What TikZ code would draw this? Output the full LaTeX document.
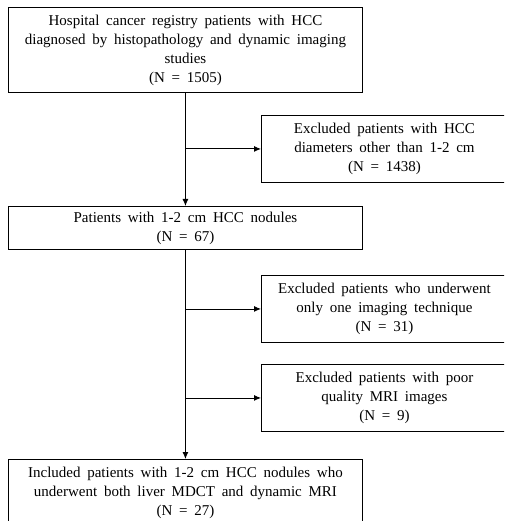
\documentclass[tikz,border=0pt]{standalone}
\usepackage{fontspec}
\setmainfont{Liberation Serif}
\usetikzlibrary{arrows, arrows.meta}
\usetikzlibrary{positioning}
\newcommand{\boxfont}{\fontsize{15}{19}\selectfont\spaceskip=0.45em plus 0.1em\relax}
\tikzset{
  stagebox/.style={draw, line width=0.9pt, rectangle, align=center, inner sep=0pt, anchor=north west, font=\boxfont},
  mainbox/.style={stagebox, minimum width=354pt},
  exclbox/.style={stagebox, minimum width=246pt, minimum height=67pt},
}

\begin{document}
\begin{tikzpicture}[x=1pt, y=-1pt, >={Latex[length=7pt,width=6pt]}, line width=0.9pt]
				% page frame, right and bottom boxes run off the edge
				\useasboundingbox (0,0) rectangle (504,521);
				\clip (0,0) rectangle (504,521);
				% boxes
				\node[mainbox, minimum height=85pt] (registry) at (8,7) {Hospital cancer registry patients with HCC\\diagnosed by histopathology and dynamic imaging\\studies\\(N = 1505)};
				\node[exclbox] (diameter) at (261,115) {Excluded patients with HCC\\diameters other than 1-2 cm\\(N = 1438)};
				\node[mainbox, minimum height=43pt] (nodules) at (8,206) {Patients with 1-2 cm HCC nodules\\(N = 67)};
				\node[exclbox] (oneimg) at (261,275) {Excluded patients who underwent\\only one imaging technique\\(N = 31)};
				\node[exclbox] (poormri) at (261,364) {Excluded patients with poor\\quality MRI images\\(N = 9)};
				\node[mainbox, minimum height=67pt] (included) at (8,459) {Included patients with 1-2 cm HCC nodules who\\underwent both liver MDCT and dynamic MRI\\(N = 27)};
				
				% arrows
				\draw[->] (registry.south) -- (nodules.north);
				\draw[->] (registry.south |- diameter.west) -- (diameter.west);
				\draw[->] (nodules.south) -- (included.north);
				\draw[->] (nodules.south |- oneimg.west) -- (oneimg.west);
				\draw[->] (nodules.south |- poormri.west) -- (poormri.west);
			\end{tikzpicture}
\end{document}
